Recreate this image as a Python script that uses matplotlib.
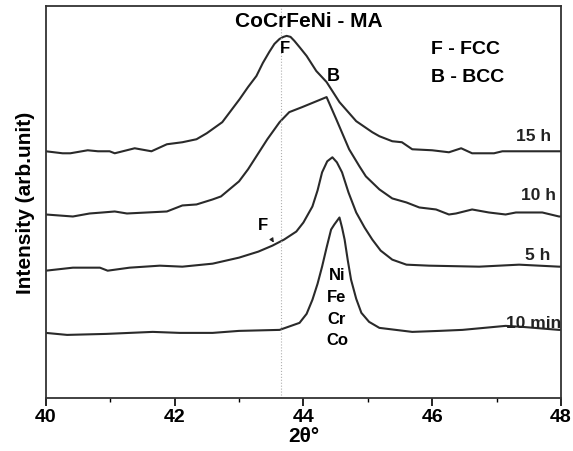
import matplotlib.pyplot as plt

plt.rcParams['font.family'] = ['Liberation Sans', 'DejaVu Sans']
plt.rcParams['font.weight'] = 'bold'

# 2theta (deg) and intensity (arb. unit, stacked offsets included)
tt_10min = [40.0, 40.33, 40.94, 41.66, 42.08, 42.59, 43.0, 43.63, 43.94, 44.05, 44.14, 44.22,
            44.29, 44.36, 44.43, 44.48, 44.56, 44.6, 44.64, 44.69, 44.74, 44.82, 44.9, 45.02,
            45.18, 45.69, 46.11, 46.47, 47.14, 47.4, 47.97, 48.0]
int_10min = [65, 63, 64, 66, 65, 65, 67, 68, 75, 84, 98, 114, 131, 150, 168, 173, 180, 170, 158,
             137, 118, 99, 85, 76, 70, 66, 67, 68, 72, 71, 68, 68]

tt_5h = [40.0, 40.42, 40.84, 40.96, 41.3, 41.77, 42.12, 42.59, 43.0, 43.3, 43.52, 43.7, 43.89,
         44.0, 44.14, 44.22, 44.29, 44.37, 44.45, 44.52, 44.6, 44.7, 44.82, 44.95, 45.07, 45.2,
         45.38, 45.6, 45.95, 46.73, 47.35, 47.97, 48.0]
int_5h = [127, 130, 130, 127, 130, 132, 131, 134, 140, 146, 152, 158, 166, 175, 191, 207, 225,
          236, 240, 235, 225, 205, 185, 170, 158, 147, 138, 133, 132, 131, 133, 131, 131]

tt_10h = [40.0, 40.42, 40.68, 40.88, 41.07, 41.26, 41.57, 41.88, 42.12, 42.34, 42.59, 42.72,
          43.0, 43.14, 43.27, 43.44, 43.63, 43.78, 43.98, 44.36, 44.51, 44.71, 44.87, 44.97,
          45.18, 45.38, 45.6, 45.8, 46.06, 46.26, 46.37, 46.62, 46.88, 47.14, 47.3, 47.71,
          47.97, 48.0]
int_10h = [183, 181, 184, 185, 186, 184, 185, 186, 192, 193, 198, 201, 216, 228, 241, 258, 275,
           285, 290, 300, 278, 248, 231, 221, 208, 199, 195, 190, 188, 183, 184, 188, 185, 183,
           185, 185, 181, 181]

tt_15h = [40.0, 40.26, 40.38, 40.65, 40.81, 40.99, 41.07, 41.38, 41.64, 41.88, 42.12, 42.34,
          42.5, 42.74, 43.01, 43.14, 43.27, 43.37, 43.47, 43.55, 43.63, 43.69, 43.74, 43.8,
          43.86, 43.95, 44.05, 44.2, 44.36, 44.56, 44.82, 45.07, 45.18, 45.38, 45.53, 45.69,
          46.0, 46.26, 46.45, 46.62, 46.96, 47.09, 47.5, 47.97, 48.0]
int_15h = [246, 244, 244, 247, 246, 246, 244, 249, 246, 253, 255, 258, 264, 275, 298, 310, 321,
           334, 345, 353, 358, 360, 361, 360, 356, 349, 341, 326, 315, 295, 276, 265, 261, 256,
           255, 248, 247, 245, 249, 244, 244, 246, 246, 246, 246]

curves = [(tt_10min, int_10min), (tt_5h, int_5h), (tt_10h, int_10h), (tt_15h, int_15h)]
curve_labels = ['10 min', '5 h', '10 h', '15 h']
label_x = [48.0, 47.83, 47.93, 47.84]
label_y = [71, 139, 198, 257]
fcc_line = 43.65

fig = plt.figure(figsize=(5.73, 4.52), dpi=100)
ax = fig.add_axes([0.080, 0.117, 0.899, 0.868])

for tt, inten in curves:
    ax.plot(tt, inten, color='#2a2a2a', lw=1.5)

ax.axvline(fcc_line, color='#b0b0b0', lw=0.8, ls=':')

for lab, xx, yy in zip(curve_labels, label_x, label_y):
    ax.text(xx, yy, lab, ha='right', va='baseline', fontsize=12.5, fontweight='bold',
            color='#222222')

ax.text(44.08, 376, 'CoCrFeNi - MA', ha='center', va='center', fontsize=15, fontweight='bold')
ax.text(45.98, 348, 'F - FCC', ha='left', va='center', fontsize=14, fontweight='bold')
ax.text(45.98, 321, 'B - BCC', ha='left', va='center', fontsize=14, fontweight='bold')
ax.text(43.71, 349, 'F', ha='center', va='center', fontsize=12, fontweight='bold')
ax.text(44.46, 322, 'B', ha='center', va='center', fontsize=13, fontweight='bold')
ax.annotate('F', xy=(43.54, 155), xytext=(43.37, 173), ha='center', va='center',
            fontsize=12, fontweight='bold',
            arrowprops=dict(arrowstyle='-|>', color='#222222', lw=0.8, mutation_scale=6,
                            shrinkA=4, shrinkB=0))
for el, yy in zip(['Ni', 'Fe', 'Cr', 'Co'], [123, 101, 79, 58]):
    ax.text(44.52, yy, el, ha='center', va='center', fontsize=12, fontweight='bold')

ax.set_xlim(40, 48)
ax.set_ylim(0, 391)
ax.set_xticks([40, 42, 44, 46, 48])
ax.set_xticks([41, 43, 45, 47], minor=True)
ax.set_yticks([])
ax.tick_params(axis='x', which='major', direction='out', length=5.5, width=1.2, labelsize=14, pad=1.5)
ax.tick_params(axis='x', which='minor', direction='out', length=3, width=1.0)
for t in ax.get_xticklabels():
    t.set_fontweight('bold')
for sp in ax.spines.values():
    sp.set_linewidth(1.3)
    sp.set_color('#333333')

ax.set_xlabel('2θ°', fontsize=15, fontweight='bold', labelpad=1)
ax.set_ylabel('Intensity (arb.unit)', fontsize=15, fontweight='bold', labelpad=8)

fig.savefig('out.png', dpi=100)
